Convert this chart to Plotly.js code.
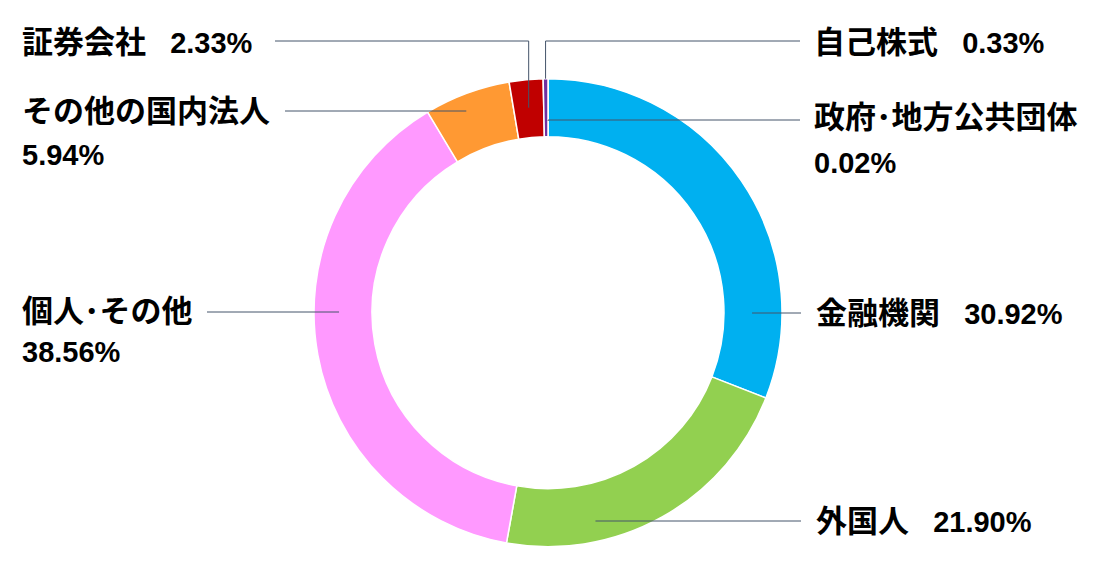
<!DOCTYPE html>
<html>
<head>
<meta charset="utf-8">
<script src="https://cdn.plot.ly/plotly-3.0.1.min.js"></script>
<style>
  html, body { margin: 0; padding: 0; background: #fff; }
  #chart { width: 1110px; height: 585px; }
</style>
</head>
<body>
<div id="chart"></div>
<script>
// 所有者別 株式分布 (%)
const categories = ['政府･地方公共団体', '金融機関', '外国人', '個人･その他', 'その他の国内法人', '証券会社', '自己株式'];
const shares = [0.02, 30.92, 21.90, 38.56, 5.94, 2.33, 0.33];
const sliceColors = ['#FFC000', '#00B0F0', '#92D050', '#FF99FF', '#FF9933', '#C00000', '#7030A0'];

// label placement (px): text position, leader line end, anchor radius as fraction of outer radius
const labelSpots = [
  { x: 812, y: [118, 163], lineY: 120, lineEnd: 800, mode: 'mid', r: 0.82 },
  { x: 814, y: [313], lineY: 313, lineEnd: 801, mode: 'h', r: 0.872 },
  { x: 814, y: [521], lineY: 521, lineEnd: 801, mode: 'h', r: 0.913 },
  { x: 20, y: [311, 352], lineY: 312, lineEnd: 207, mode: 'h', r: 0.893 },
  { x: 20, y: [111, 155], lineY: 111, lineEnd: 285, mode: 'h', r: 0.93 },
  { x: 20, y: [43], lineY: 41, lineEnd: 275, mode: 'mid', r: 0.88 },
  { x: 812, y: [43], lineY: 41, lineEnd: 800, mode: 'mid', r: 1.0 }
];

const W = 1110, H = 585;
const CX = 548, CY = 312.7, R = 234;
const HOLE = 0.752;
const lineColor = '#44546A';
const font = { family: '"Liberation Sans", "Noto Sans CJK JP", sans-serif', size: 29, color: '#000' };
const nameSize = 31, pctSize = 29;
const gap = '\u00A0\u00A0\u00A0';

const px = v => v / W;
const py = v => 1 - v / H;
const nameSpan = t => '<span style="font-size:' + nameSize + 'px">' + t + '</span>';
const pctSpan = t => '<span style="font-size:' + pctSize + 'px">' + t + '</span>';

const total = shares.reduce((a, b) => a + b, 0);
let acc = 0;
const annotations = [];
const shapes = [];

shares.forEach((v, i) => {
  const a0 = acc / total * 360;
  acc += v;
  const a1 = acc / total * 360;
  const spot = labelSpots[i];
  const pct = v.toFixed(2) + '%';
  const rr = spot.r * R;
  let ax, ay;
  if (spot.mode === 'h') {
    const dy = spot.lineY - CY;
    const dx = Math.sqrt(Math.max(rr * rr - dy * dy, 0));
    ax = spot.x > CX ? CX + dx : CX - dx;
    ay = spot.lineY;
  } else {
    const mid = (a0 + a1) / 2 * Math.PI / 180;
    ax = CX + rr * Math.sin(mid);
    ay = CY - rr * Math.cos(mid);
  }
  // leader line: from anchor up/down to the label row, then across
  if (Math.abs(ay - spot.lineY) > 0.5) {
    shapes.push({ type: 'line', xref: 'paper', yref: 'paper',
      x0: px(ax), y0: py(ay), x1: px(ax), y1: py(spot.lineY),
      line: { color: lineColor, width: 1 } });
  }
  shapes.push({ type: 'line', xref: 'paper', yref: 'paper',
    x0: px(ax), y0: py(spot.lineY), x1: px(spot.lineEnd), y1: py(spot.lineY),
    line: { color: lineColor, width: 1 } });

  const lines = spot.y.length > 1
    ? [nameSpan(categories[i]), pctSpan(pct)]
    : [nameSpan(categories[i]) + pctSpan(gap + pct)];
  lines.forEach((t, k) => {
    annotations.push({ xref: 'paper', yref: 'paper', x: px(spot.x), y: py(spot.y[k]),
      xanchor: 'left', yanchor: 'middle', align: 'left', showarrow: false,
      text: '<b>' + t + '</b>', font: font });
  });
});

const trace = {
  type: 'pie',
  labels: categories,
  values: shares,
  hole: HOLE,
  sort: false,
  direction: 'clockwise',
  rotation: 0,
  textinfo: 'none',
  hoverinfo: 'label+percent',
  marker: { colors: sliceColors, line: { color: '#fff', width: 1.5 } },
  domain: { x: [px(CX - R), px(CX + R)], y: [py(CY + R), py(CY - R)] },
  showlegend: false
};

const layout = {
  width: W, height: H,
  margin: { l: 0, r: 0, t: 0, b: 0 },
  paper_bgcolor: '#fff',
  plot_bgcolor: '#fff',
  showlegend: false,
  annotations: annotations,
  shapes: shapes
};

Plotly.newPlot('chart', [trace], layout, { displayModeBar: false, staticPlot: true });
</script>
</body>
</html>
